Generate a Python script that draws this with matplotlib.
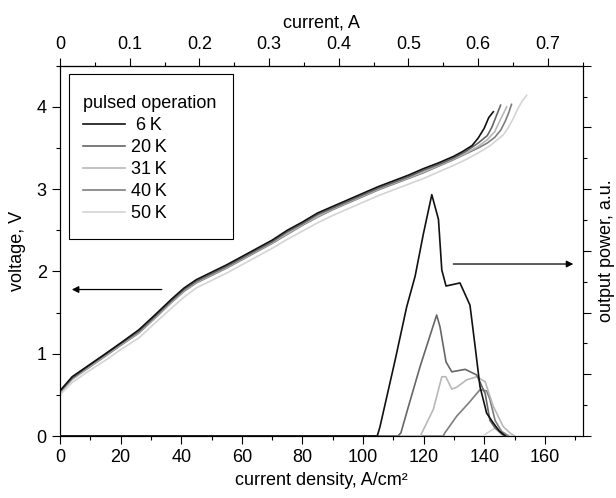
import matplotlib
matplotlib.use("Agg")
import matplotlib.pyplot as plt
from matplotlib.ticker import MultipleLocator, NullFormatter
from matplotlib.lines import Line2D
from matplotlib.patches import Rectangle

plt.rcParams['font.family'] = ['Liberation Sans', 'DejaVu Sans']
plt.rcParams['font.size'] = 13

# ---------------- data ----------------
labels = [" 6\u2009K", "20\u2009K", "31\u2009K", "40\u2009K", "50\u2009K"]
colors = ["#111111", "#666666", "#b8b8b8", "#7e7e7e", "#d4d4d4"]

J_base = [0, 4, 9.5, 15, 20, 26, 31, 37, 41, 45, 50, 55, 60, 65, 70, 75, 80, 85,
          90, 95, 100, 105, 110, 115, 120, 125, 130]

J6 = J_base + [133, 136, 138, 140, 141.5, 143]
V6 = [0.55, 0.72, 0.86, 1.00, 1.13, 1.29, 1.46, 1.67, 1.80, 1.90, 1.99, 2.08, 2.18,
      2.28, 2.38, 2.50, 2.60, 2.71, 2.79, 2.87, 2.95, 3.03, 3.10, 3.17, 3.25, 3.32,
      3.40, 3.46, 3.53, 3.62, 3.74, 3.87, 3.94]

J20 = J_base + [134, 138, 141, 142.5, 144, 145.4]
V20 = [0.54, 0.70, 0.85, 0.99, 1.12, 1.27, 1.44, 1.65, 1.78, 1.88, 1.97, 2.06, 2.16,
       2.26, 2.36, 2.48, 2.58, 2.69, 2.77, 2.85, 2.93, 3.01, 3.08, 3.15, 3.23, 3.30,
       3.38, 3.46, 3.56, 3.65, 3.75, 3.89, 4.02]

J31 = J_base + [134, 138, 141, 143.5, 145, 146.5, 147.4]
V31 = [0.53, 0.69, 0.84, 0.98, 1.11, 1.26, 1.43, 1.64, 1.77, 1.87, 1.96, 2.05, 2.15,
       2.25, 2.35, 2.46, 2.57, 2.67, 2.76, 2.84, 2.92, 3.00, 3.07, 3.14, 3.21, 3.29,
       3.37, 3.44, 3.52, 3.60, 3.70, 3.82, 3.93, 4.00]

J40 = J_base + [134, 138, 141, 143.5, 145.5, 147, 148.2, 149]
V40 = [0.53, 0.69, 0.83, 0.97, 1.10, 1.25, 1.42, 1.63, 1.76, 1.86, 1.95, 2.04, 2.14,
       2.24, 2.34, 2.45, 2.56, 2.66, 2.75, 2.83, 2.91, 2.99, 3.06, 3.13, 3.20, 3.28,
       3.36, 3.43, 3.50, 3.56, 3.63, 3.72, 3.83, 3.94, 4.03]

J50 = J_base + [134, 138, 142, 146.3, 148, 149.6, 151, 152.5, 154]
V50 = [0.50, 0.65, 0.79, 0.92, 1.05, 1.19, 1.36, 1.56, 1.69, 1.80, 1.89, 1.98, 2.08,
       2.18, 2.28, 2.39, 2.49, 2.59, 2.68, 2.76, 2.84, 2.92, 2.99, 3.06, 3.13, 3.21,
       3.29, 3.36, 3.44, 3.53, 3.66, 3.75, 3.86, 3.97, 4.07, 4.14]

# output power (a.u., right axis)
PJ6 = [0, 104.7, 105.6, 110.6, 114.4, 117.2, 119.9, 122.7, 124.9, 126, 127.4, 132,
       135.3, 137, 138.6, 140.8, 143, 145, 147]
P6 = [0, 0, 0.15, 1.23, 2.09, 2.59, 3.27, 3.91, 3.51, 2.69, 2.43, 2.48, 2.12, 1.45,
      0.80, 0.37, 0.21, 0.08, 0.0]
PJ20 = [0, 111.5, 112.5, 115, 118.8, 124.3, 125.4, 127.4, 129.3, 133.7, 137.5, 140.3,
        141.9, 143.6, 146, 147]
P20 = [0, 0, 0.05, 0.48, 1.12, 1.96, 1.77, 1.20, 1.04, 1.08, 0.99, 0.69, 0.25, 0.13,
       0.02, 0]
PJ31 = [0, 119, 119.4, 123.2, 126, 127.3, 129.3, 130.9, 134.2, 137.5, 140.3, 143,
        146.3, 148.5, 150]
P31 = [0, 0, 0.05, 0.43, 0.96, 0.96, 0.76, 0.79, 0.91, 0.96, 0.88, 0.48, 0.15, 0.05, 0]
PJ40 = [0, 126.5, 127, 130.9, 134.8, 138.6, 140.8, 141.9, 143.6, 145.8, 148]
P40 = [0, 0, 0.05, 0.32, 0.53, 0.75, 0.73, 0.59, 0.25, 0.07, 0]
PJ50 = [0, 139.7, 141, 143.6, 145.2, 148, 150]
P50 = [0, 0, 0.05, 0.13, 0.09, 0.01, 0]

IV = [(J6, V6), (J20, V20), (J31, V31), (J40, V40), (J50, V50)]
PW = [(PJ6, P6), (PJ20, P20), (PJ31, P31), (PJ40, P40), (PJ50, P50)]

area_ratio = 0.7 / 161.0   # current (A) per current density (A/cm^2)

# ---------------- figure ----------------
fig = plt.figure(figsize=(6.16, 4.98), dpi=100)
ax = fig.add_axes([60 / 616, 62 / 498, 522.7 / 616, 370.3 / 498])
ax2 = ax.twinx()

for i in range(4, -1, -1):
    J, V = IV[i]
    ax.plot(J, V, color=colors[i], lw=1.2, zorder=3 + (4 - i))
for i in range(4, -1, -1):
    J, P = PW[i]
    ax2.plot(J, P, color=colors[i], lw=1.2, zorder=3 + (4 - i))
handles = [Line2D([], [], color=colors[i], lw=1.2, label=labels[i]) for i in range(5)]

ax.set_xlim(0, 172.5)
ax.set_ylim(0, 4.5)
ax2.set_ylim(0, 6)

ax.xaxis.set_major_locator(MultipleLocator(20))
ax.xaxis.set_minor_locator(MultipleLocator(10))
ax.yaxis.set_major_locator(MultipleLocator(1))
ax.yaxis.set_minor_locator(MultipleLocator(0.5))
ax2.yaxis.set_major_locator(MultipleLocator(1))
ax2.yaxis.set_minor_locator(MultipleLocator(0.5))
ax2.yaxis.set_major_formatter(NullFormatter())

for a in (ax, ax2):
    a.tick_params(which='major', direction='out', length=5.5, width=0.8)
    a.tick_params(which='minor', direction='out', length=3, width=0.8)
    for s in a.spines.values():
        s.set_linewidth(0.8)
ax.tick_params(labelsize=13, pad=4)

sec = ax.secondary_xaxis('top', functions=(lambda j: j * area_ratio,
                                           lambda c: c / area_ratio))
sec.xaxis.set_major_locator(MultipleLocator(0.1))
sec.xaxis.set_minor_locator(MultipleLocator(0.05))
sec.tick_params(which='major', direction='out', length=5.5, width=0.8, labelsize=13, pad=4)
sec.tick_params(which='minor', direction='out', length=3, width=0.8)
sec.set_xticks([0, 0.1, 0.2, 0.3, 0.4, 0.5, 0.6, 0.7])
sec.set_xticklabels(["0", "0.1", "0.2", "0.3", "0.4", "0.5", "0.6", "0.7"])
sec.set_xlabel("current, A", fontsize=13, labelpad=6)
sec.spines['top'].set_linewidth(0.8)

ax.set_xlabel("current density, A/cm\u00b2", fontsize=13, labelpad=4)
ax.set_ylabel("voltage, V", fontsize=13, labelpad=8)
ax2.set_ylabel("output power, a.u.", fontsize=13, labelpad=2)

# arrows
ax.annotate("", xy=(3.9, 1.78), xytext=(33.6, 1.78),
            arrowprops=dict(arrowstyle='-|>', color='black', lw=0.9,
                            mutation_scale=10, shrinkA=0, shrinkB=0))
ax.annotate("", xy=(169.4, 2.09), xytext=(129.8, 2.09),
            arrowprops=dict(arrowstyle='-|>', color='black', lw=0.9,
                            mutation_scale=10, shrinkA=0, shrinkB=0))

# legend: frame drawn separately
box = Rectangle((0.0172, 0.532), 0.3138, 0.4456, transform=ax.transAxes,
                facecolor='white', edgecolor='black', lw=0.8, zorder=19)
ax.add_patch(box)
leg = ax.legend(handles=handles, title="pulsed operation", loc='upper left',
                bbox_to_anchor=(0.044, 0.9215), borderaxespad=0,
                frameon=False, fontsize=13, title_fontsize=13, handlelength=2.3,
                handletextpad=0.35, labelspacing=0.28, borderpad=0.0,
                alignment='left')
leg.set_zorder(20)

fig.savefig("out.png", dpi=100)
